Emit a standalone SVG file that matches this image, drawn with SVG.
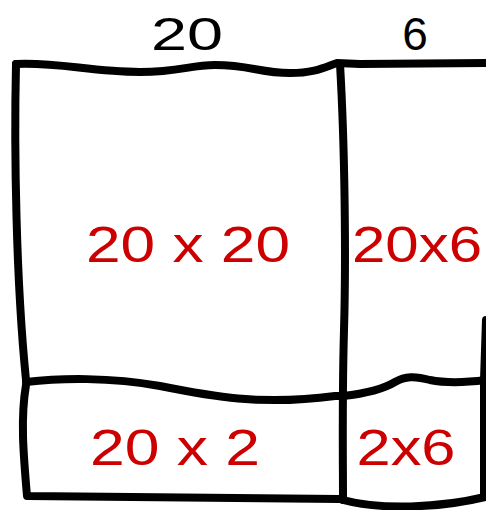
<svg xmlns="http://www.w3.org/2000/svg" width="486" height="510" viewBox="0 0 486 510">
<style>
.ln{fill:none;stroke:#000;stroke-width:8;stroke-linecap:round;stroke-linejoin:round}
.lbl{font-family:"Liberation Sans",Arial,sans-serif;font-size:46px;fill:#000;text-anchor:middle}
.prod{font-family:"Liberation Sans",Arial,sans-serif;font-size:50px;fill:#cc0000;text-anchor:middle}
</style>
<rect width="486" height="510" fill="#fff"/>
<g id="labels">
<text class="lbl" x="187" y="50" textLength="72" lengthAdjust="spacingAndGlyphs">20</text>
<text class="lbl" x="415" y="50">6</text>
</g>
<g id="cell-20x20">
<text class="prod" x="188" y="262" textLength="204" lengthAdjust="spacingAndGlyphs">20 x 20</text>
</g>
<g id="cell-20x6">
<text class="prod" x="417" y="262" textLength="130" lengthAdjust="spacingAndGlyphs">20x6</text>
</g>
<g id="cell-20x2">
<text class="prod" x="175" y="465" textLength="170" lengthAdjust="spacingAndGlyphs">20 x 2</text>
</g>
<g id="cell-2x6">
<text class="prod" x="406" y="465" textLength="99" lengthAdjust="spacingAndGlyphs">2x6</text>
</g>
<g id="connectors">
<path class="ln" d="M16 64 C60 62 90 72 140 72 C180 72 190 65 215 65 C250 65 260 73 290 73 C315 73 325 67 337 63 L360 64 L486 63"/>
<path class="ln" d="M16 64 C14 150 16 280 26 380"/>
<path class="ln" d="M340 64 C345 150 346 260 344 330 C342 400 343 460 343 500"/>
<path class="ln" d="M26 382 C60 378 110 377 160 386 C210 396 260 406 335 396 L343 396 C370 393 385 388 395 382 C405 376 415 376 430 380 C450 384 470 382 486 380"/>
<path class="ln" d="M26 385 C20 420 24 460 27 496 L340 499"/>
<path class="ln" d="M343 500 C380 510 440 508 485 497"/>
<path class="ln" d="M486 320 L484 380 L484 497"/>
</g>
</svg>
